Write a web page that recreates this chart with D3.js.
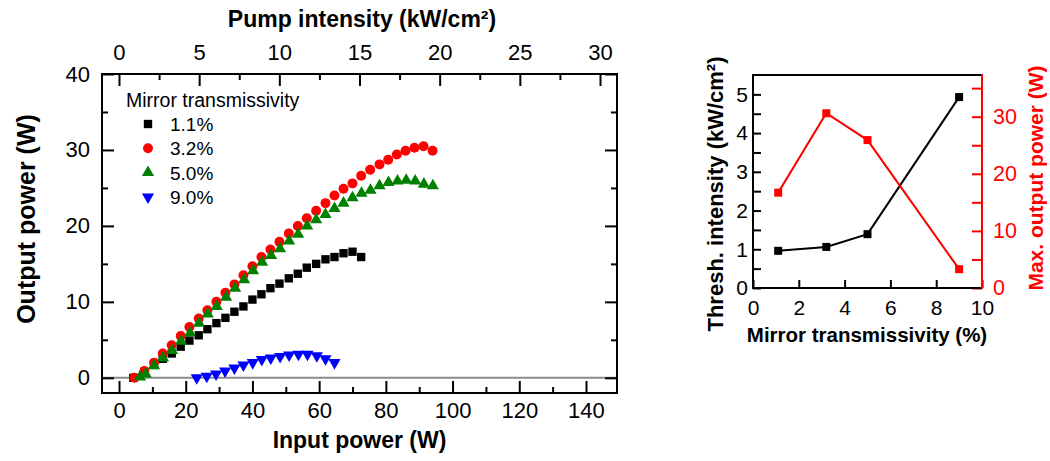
<!DOCTYPE html>
<html>
<head>
<meta charset="utf-8">
<script src="https://cdn.jsdelivr.net/npm/d3@7"></script>
<style>
  body { margin: 0; background: #fff; }
  svg { font-family: "Liberation Sans", Arial, sans-serif; }
  .tick line { stroke-width: 2; }
</style>
</head>
<body>
<svg id="chart" width="1050" height="461"></svg>
<script>
// ---- data ----
// left panel: output power vs input power, one series per mirror
var seriesNames = ["1.1%", "3.2%", "5.0%", "9.0%"];

var input11  = [4.3, 7.6, 10.5, 13.1, 15.8, 18.5, 21.1, 23.9, 26.5, 29.2, 31.9, 34.6, 37.3,
                40.0, 42.7, 45.4, 48.1, 50.9, 53.6, 56.3, 59.1, 61.9, 64.6, 67.3, 70.0, 72.6];
var output11 = [0.0, 0.8, 1.7, 2.5, 3.2, 4.1, 4.9, 5.6, 6.4, 7.2, 7.9, 8.7, 9.4,
                10.3, 11.0, 11.8, 12.4, 13.1, 13.7, 14.5, 15.0, 15.6, 15.9, 16.4, 16.6, 15.9];

var input32  = [4.6, 7.6, 10.5, 13.1, 15.8, 18.5, 21.1, 23.9, 26.5, 29.2, 31.9, 34.6, 37.3, 40.0,
                42.7, 45.4, 48.1, 50.9, 53.6, 56.3, 59.1, 61.9, 64.6, 67.3, 70.0, 72.6, 75.3,
                78.1, 80.7, 83.3, 85.9, 88.6, 91.3, 94.0];
var output32 = [0.0, 0.9, 2.0, 3.2, 4.3, 5.5, 6.7, 7.8, 8.9, 10.0, 11.2, 12.3, 13.5, 14.7,
                15.9, 16.9, 17.9, 19.0, 20.0, 21.0, 22.0, 23.0, 24.0, 24.9, 25.6, 26.6, 27.4,
                28.1, 28.7, 29.4, 29.9, 30.3, 30.5, 29.9];

var input50  = [6.3, 8.0, 10.5, 13.2, 15.9, 18.6, 21.3, 24.0, 26.6, 29.3, 32.1, 34.8, 37.5, 40.2,
                42.9, 45.6, 48.3, 51.0, 53.7, 56.4, 59.1, 61.9, 64.6, 67.3, 70.0, 72.7, 75.4,
                78.1, 80.8, 83.5, 86.1, 88.8, 91.4, 94.1];
var output50 = [0.1, 0.5, 1.6, 2.6, 3.6, 4.8, 5.9, 7.2, 8.4, 9.4, 10.6, 11.8, 12.9, 14.1,
                15.2, 16.1, 17.0, 18.0, 18.9, 20.0, 20.8, 21.5, 22.3, 23.0, 23.7, 24.3, 24.7,
                25.3, 25.7, 25.9, 26.0, 25.9, 25.5, 25.3];

var input90  = [23.3, 26.3, 29.1, 31.8, 34.6, 37.3, 40.1, 42.8, 45.5, 48.3, 51.0, 53.8, 56.5, 59.3, 61.9, 64.6];
var output90 = [0.0, 0.2, 0.5, 0.9, 1.3, 1.7, 2.0, 2.4, 2.6, 2.8, 3.0, 3.1, 3.1, 2.9, 2.5, 2.0];

var inputTicks = [0, 20, 40, 60, 80, 100, 120, 140];
var pumpTicks  = [0, 5, 10, 15, 20, 25, 30];
var outTicks   = [0, 10, 20, 30, 40];

// right panel: threshold and max power vs mirror transmissivity
var transmissivity = [1.1, 3.2, 5.0, 9.0];
var threshold      = [0.96, 1.06, 1.39, 4.93];
var maxPower       = [16.7, 30.6, 25.9, 3.3];

var transTicks  = [0, 2, 4, 6, 8, 10];
var threshTicks = [0, 1, 2, 3, 4, 5];
var powerTicks  = [0, 10, 20, 30];

// ---- helpers ----
var svg = d3.select("#chart");

// axis with inward ticks, no domain line (boxes are drawn separately)
function drawAxis(axisFn, scale, ticks, size, pad, pos, color, fontSize){
  let ax = axisFn(scale).tickValues(ticks).tickSizeInner(-size).tickSizeOuter(0)
           .tickPadding(pad)
           .tickFormat(fontSize ? d3.format("d") : "");
  let g = svg.append("g").attr("transform", pos).call(ax);
  g.select(".domain").remove();
  g.selectAll(".tick line").attr("stroke", color);
  g.selectAll(".tick text").attr("fill", color).style("font-size", fontSize + "px");
  return g;
}

function symbolPath(type, size){
  return d3.symbol().type(type).size(size)();
}

function title(x, y, rot, size, txt, color){
  return svg.append("text")
     .attr("transform", "translate(" + x + "," + y + ") rotate(" + rot + ")")
     .attr("text-anchor", "middle")
     .style("font-size", size + "px").style("font-weight", "bold")
     .attr("fill", color || "#000")
     .text(txt);
}

// ---- left panel ----
var L = {x0: 102, x1: 617, y0: 74, y1: 393};
var xIn   = d3.scaleLinear().domain([-5.1, 149.3]).range([L.x0, L.x1]);
var xPump = d3.scaleLinear().domain([-1.06, 31.06]).range([L.x0, L.x1]);
var yOut  = d3.scaleLinear().domain([-2, 40]).range([L.y1, L.y0]);

// zero line
svg.append("line")
   .attr("x1", L.x0).attr("x2", L.x1)
   .attr("y1", yOut(0)).attr("y2", yOut(0))
   .attr("stroke", "#8c8c8c").attr("stroke-width", 2);

// bottom
drawAxis(d3.axisBottom, xIn, inputTicks, 12, 9, "translate(0," + L.y1 + ")", "#000", 22);
drawAxis(d3.axisBottom, xIn, d3.range(10, 150, 20), 6, 0, "translate(0," + L.y1 + ")", "#000");
// top
drawAxis(d3.axisTop, xPump, pumpTicks, 12, 14, "translate(0," + L.y0 + ")", "#000", 22);
drawAxis(d3.axisTop, xPump, d3.range(2.5, 31, 5), 6, 0, "translate(0," + L.y0 + ")", "#000");
// left / right
drawAxis(d3.axisLeft, yOut, outTicks, 12, 12, "translate(" + L.x0 + ",0)", "#000", 22);
drawAxis(d3.axisLeft, yOut, d3.range(5, 40, 10), 6, 0, "translate(" + L.x0 + ",0)", "#000");
drawAxis(d3.axisRight, yOut, outTicks, 12, 0, "translate(" + L.x1 + ",0)", "#000");
drawAxis(d3.axisRight, yOut, d3.range(5, 40, 10), 6, 0, "translate(" + L.x1 + ",0)", "#000");

svg.append("rect")
   .attr("x", L.x0).attr("y", L.y0)
   .attr("width", L.x1 - L.x0).attr("height", L.y1 - L.y0)
   .attr("fill", "none").attr("stroke", "#000").attr("stroke-width", 2);

// markers
var leftSeries = [
  {name: seriesNames[0], xs: input11, ys: output11, type: d3.symbolSquare,   size: 70, color: "#000000", rot: 0},
  {name: seriesNames[1], xs: input32, ys: output32, type: d3.symbolCircle,   size: 78, color: "#ff0000", rot: 0},
  {name: seriesNames[2], xs: input50, ys: output50, type: d3.symbolTriangle, size: 64, color: "#008000", rot: 0},
  {name: seriesNames[3], xs: input90, ys: output90, type: d3.symbolTriangle, size: 64, color: "#0000ff", rot: 180}
];

leftSeries.forEach(function(s){
  let pts = s.xs.map(function(x, i){ return {x: x, y: s.ys[i]}; });
  svg.append("g").selectAll("path").data(pts).enter()
     .append("path")
     .attr("d", symbolPath(s.type, s.size))
     .attr("transform", function(d){
        return "translate(" + xIn(d.x) + "," + yOut(d.y) + ") rotate(" + s.rot + ")";
     })
     .attr("fill", s.color);
});

// legend
var legend = svg.append("g").attr("transform", "translate(126,0)");
legend.append("text").attr("x", 0).attr("y", 107)
      .style("font-size", "19.5px").text("Mirror transmissivity");
leftSeries.forEach(function(s, i){
  let cy = 124 + i * 24.3;
  legend.append("path")
        .attr("d", symbolPath(s.type, s.size))
        .attr("transform", "translate(22," + cy + ") rotate(" + s.rot + ")")
        .attr("fill", s.color);
  legend.append("text").attr("x", 44).attr("y", cy + 7)
        .style("font-size", "19px").text(s.name);
});

// titles
title((L.x0 + L.x1) / 2, 448, 0, 23, "Input power (W)");
title(362, 27, 0, 23, "Pump intensity (kW/cm²)");
title(35, 219, -90, 25, "Output power (W)");

// ---- right panel ----
var R = {x0: 753, x1: 982, y0: 75, y1: 288};
var xT  = d3.scaleLinear().domain([0, 10]).range([R.x0, R.x1]);
var yTh = d3.scaleLinear().domain([0, 5.5]).range([R.y1, R.y0]);
var yMP = d3.scaleLinear().domain([0, 37.3]).range([R.y1, R.y0]);

drawAxis(d3.axisBottom, xT, transTicks, 8, 12, "translate(0," + R.y1 + ")", "#000", 21);
drawAxis(d3.axisLeft, yTh, threshTicks, 8, 9, "translate(" + R.x0 + ",0)", "#000", 21)
  .selectAll(".tick text").attr("dx", 4);
drawAxis(d3.axisLeft, yTh, d3.range(0.5, 5.5, 1), 8, 0, "translate(" + R.x0 + ",0)", "#000");
drawAxis(d3.axisRight, yMP, powerTicks, 10, 11, "translate(" + R.x1 + ",0)", "#ff0000", 21.5);
drawAxis(d3.axisRight, yMP, d3.range(5, 37, 10), 10, 0, "translate(" + R.x1 + ",0)", "#ff0000");

// frame: black left/top/bottom, red right
svg.append("path")
   .attr("d", "M" + R.x1 + "," + R.y0 + "H" + R.x0 + "V" + R.y1 + "H" + R.x1)
   .attr("fill", "none").attr("stroke", "#000").attr("stroke-width", 2);
svg.append("line")
   .attr("x1", R.x1).attr("x2", R.x1).attr("y1", R.y0 - 1).attr("y2", R.y1 + 1)
   .attr("stroke", "#ff0000").attr("stroke-width", 2);

var rightSeries = [
  {ys: threshold, y: yTh, color: "#000000"},
  {ys: maxPower,  y: yMP, color: "#ff0000"}
];
rightSeries.forEach(function(s){
  let pts = transmissivity.map(function(t, i){ return {x: t, y: s.ys[i]}; });
  let line = d3.line().x(function(d){ return xT(d.x); }).y(function(d){ return s.y(d.y); });
  svg.append("path").datum(pts).attr("d", line)
     .attr("fill", "none").attr("stroke", s.color).attr("stroke-width", 2);
  svg.append("g").selectAll("path").data(pts).enter()
     .append("path")
     .attr("d", symbolPath(d3.symbolSquare, 64))
     .attr("transform", function(d){ return "translate(" + xT(d.x) + "," + s.y(d.y) + ")"; })
     .attr("fill", s.color);
});

title(867, 342, 0, 20.5, "Mirror transmissivity (%)");
title(723, 194, -90, 22, "Thresh. intensity (kW/cm²)");
title(1043, 178, -90, 21, "Max. output power (W)", "#ff0000");
</script>
</body>
</html>
